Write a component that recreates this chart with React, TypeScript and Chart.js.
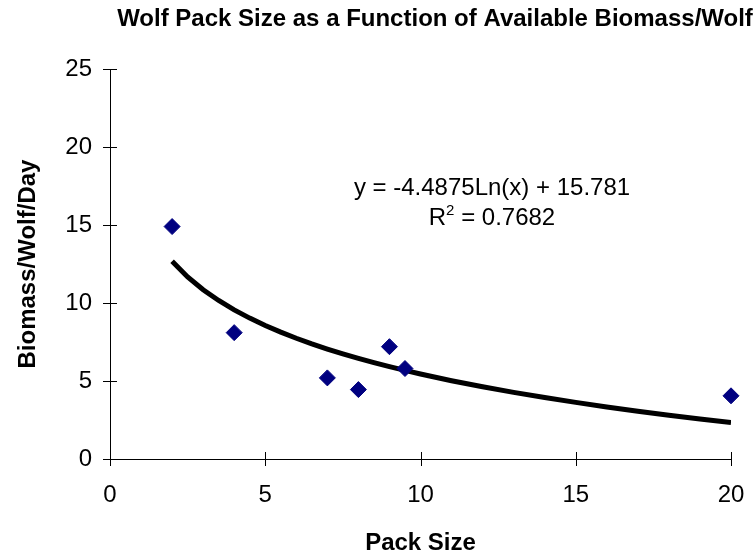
import React, { useEffect, useRef } from "react";
import { Chart, registerables } from "chart.js";

Chart.register(...registerables);

const TITLE = "Wolf Pack Size as a Function of Available Biomass/Wolf";
const X_TITLE = "Pack Size";
const Y_TITLE = "Biomass/Wolf/Day";

const packSize = [2, 4, 7, 8, 9, 9.5, 20];
const biomassPerWolf = [14.9, 8.1, 5.2, 4.45, 7.2, 5.8, 4.05];

// Logarithmic trendline as printed on the chart: y = a*ln(x) + b
const TREND_A = -4.4875;
const TREND_B = 15.781;
const TREND_R2 = "0.7682";
const trendX = [2, 2.5, 3, 3.5, 4, 4.5, 5, 5.5, 6, 6.5, 7, 7.5, 8, 8.5, 9, 9.5, 10, 11, 12, 13, 14, 15, 16, 17, 18, 19, 20];

const xTicks = [0, 5, 10, 15, 20];
const yTicks = [0, 5, 10, 15, 20, 25];

const FONT = "'Liberation Sans', Arial, Helvetica, sans-serif";

export default function App() {
  const ref = useRef<HTMLCanvasElement | null>(null);

  useEffect(() => {
    if (!ref.current) return;

    const decor = {
      id: "decor",
      afterDraw(chart: any) {
        const ctx = chart.ctx;
        const xs = chart.scales.x;
        const ys = chart.scales.y;
        const ca = chart.chartArea;
        ctx.save();
        // crossing tick marks
        ctx.strokeStyle = "#000";
        ctx.lineWidth = 1;
        ctx.beginPath();
        xTicks.forEach((v) => {
          const px = Math.round(xs.getPixelForValue(v)) + 0.5;
          ctx.moveTo(px, ca.bottom - 7);
          ctx.lineTo(px, ca.bottom + 7);
        });
        yTicks.forEach((v) => {
          const py = Math.round(ys.getPixelForValue(v)) + 0.5;
          ctx.moveTo(ca.left - 7, py);
          ctx.lineTo(ca.left + 7, py);
        });
        ctx.stroke();

        ctx.fillStyle = "#000";
        // title
        ctx.font = `bold 24px ${FONT}`;
        ctx.textAlign = "center";
        ctx.textBaseline = "middle";
        ctx.fillText(TITLE, 435, 19);
        // x title
        ctx.fillText(X_TITLE, (ca.left + ca.right) / 2, 543);
        // y title
        ctx.save();
        ctx.translate(28, (ca.top + ca.bottom) / 2);
        ctx.rotate(-Math.PI / 2);
        ctx.fillText(Y_TITLE, 0, 0);
        ctx.restore();

        // equation
        ctx.font = `24px ${FONT}`;
        const eq = `y = ${TREND_A}Ln(x) + ${TREND_B}`;
        const cx = 492;
        ctx.fillText(eq, cx, 188);
        const r = "R";
        const rest = ` = ${TREND_R2}`;
        const wR = ctx.measureText(r).width;
        const wRest = ctx.measureText(rest).width;
        ctx.font = `15px ${FONT}`;
        const wSup = ctx.measureText("2").width;
        const total = wR + wSup + wRest;
        let sx = cx - total / 2;
        ctx.textAlign = "left";
        ctx.font = `24px ${FONT}`;
        ctx.fillText(r, sx, 218);
        sx += wR;
        ctx.font = `15px ${FONT}`;
        ctx.fillText("2", sx, 211);
        sx += wSup;
        ctx.font = `24px ${FONT}`;
        ctx.fillText(rest, sx, 218);
        ctx.restore();
      },
    };

    const chart = new Chart(ref.current, {
      type: "scatter",
      data: {
        datasets: [
          {
            label: "Trend",
            data: trendX.map((x) => ({ x, y: TREND_A * Math.log(x) + TREND_B })),
            showLine: true,
            borderColor: "#000",
            borderWidth: 5,
            pointRadius: 0,
            tension: 0,
            order: 2,
          },
          {
            label: "Observed",
            data: packSize.map((x, i) => ({ x, y: biomassPerWolf[i] })),
            pointStyle: "rectRot",
            pointRadius: 8,
            backgroundColor: "#000080",
            borderColor: "#000080",
            borderWidth: 1,
            order: 1,
            clip: false,
          },
        ],
      },
      options: {
        responsive: false,
        animation: false,
        devicePixelRatio: 1,
        layout: { padding: { top: 69, right: 25, left: 0, bottom: 0 } },
        plugins: {
          legend: { display: false },
          title: { display: false },
          tooltip: { enabled: false },
        },
        scales: {
          x: {
            type: "linear",
            min: 0,
            max: 20,
            grid: { display: false, drawTicks: false },
            border: { display: true, color: "#000", width: 1 },
            ticks: {
              stepSize: 5,
              color: "#000",
              font: { family: FONT, size: 24 },
              padding: 22,
              maxRotation: 0,
            },
            afterFit: (s: any) => {
              s.height = 97;
              s.paddingLeft = 0;
              s.paddingRight = 0;
            },
          },
          y: {
            type: "linear",
            min: 0,
            max: 25,
            grid: { display: false, drawTicks: false },
            border: { display: true, color: "#000", width: 1 },
            ticks: {
              stepSize: 5,
              color: "#000",
              font: { family: FONT, size: 24 },
              padding: 18,
            },
            afterFit: (s: any) => {
              s.width = 110;
              s.paddingTop = 0;
              s.paddingBottom = 0;
            },
          },
        },
      },
      plugins: [decor],
    });
    return () => chart.destroy();
  }, []);

  return (
    <div style={{ position: "absolute", left: 0, top: 0, width: 756, height: 556, background: "#fff" }}>
      <canvas ref={ref} width={756} height={556} />
    </div>
  );
}
